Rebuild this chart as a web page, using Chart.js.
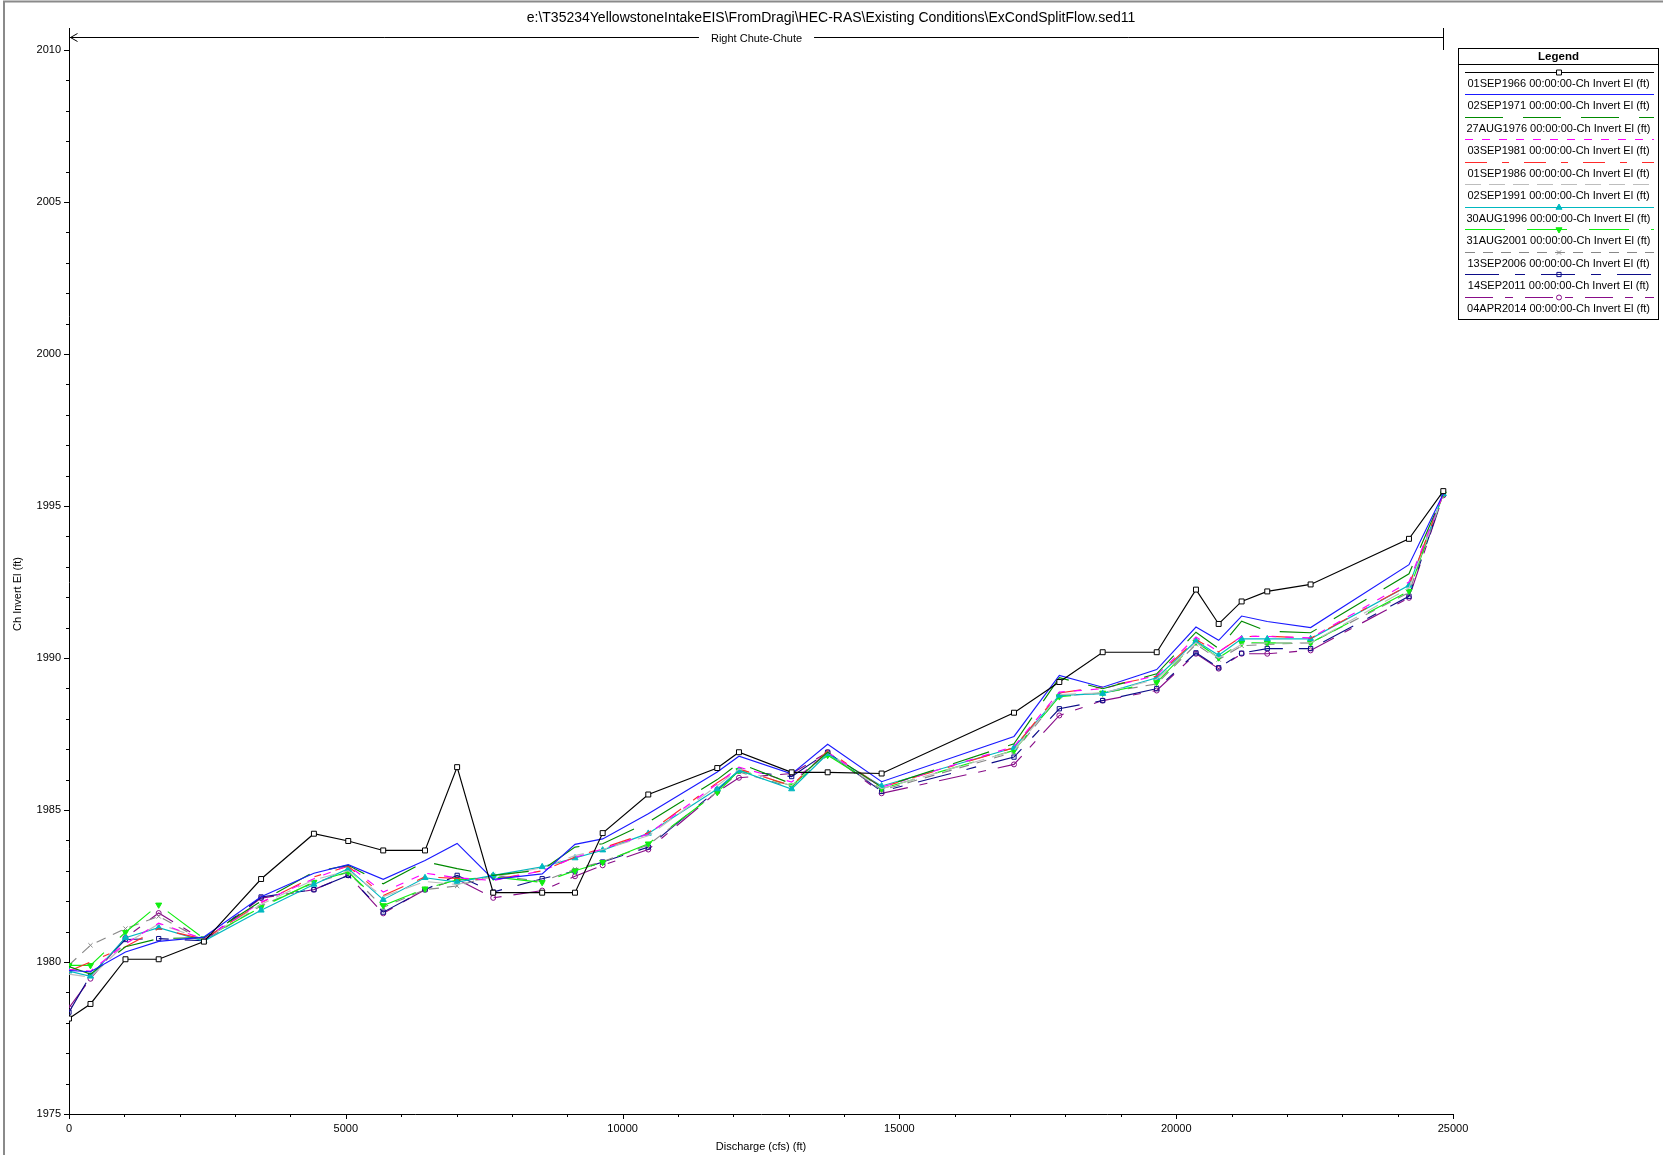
<!DOCTYPE html>
<html><head><meta charset="utf-8">
<script src="https://cdn.jsdelivr.net/npm/chart.js@4.4.1/dist/chart.umd.min.js"></script>
<style>html,body{margin:0;padding:0;background:#fff;overflow:hidden}canvas{display:block}</style>
</head><body><canvas id="c" width="1663" height="1155"></canvas>
<script>
const discharge = [0, 388, 1020, 1620, 2437, 3470, 4424, 5044, 5676, 6431, 7011, 7663, 8547, 9140, 9640, 10464, 11710, 12102, 13054, 13704, 14679, 17070, 17889, 18672, 19648, 20357, 20767, 21182, 21645, 22428, 24205, 24825];

const seriesNames = [
  '01SEP1966 00:00:00-Ch Invert El (ft)',
  '02SEP1971 00:00:00-Ch Invert El (ft)',
  '27AUG1976 00:00:00-Ch Invert El (ft)',
  '03SEP1981 00:00:00-Ch Invert El (ft)',
  '01SEP1986 00:00:00-Ch Invert El (ft)',
  '02SEP1991 00:00:00-Ch Invert El (ft)',
  '30AUG1996 00:00:00-Ch Invert El (ft)',
  '31AUG2001 00:00:00-Ch Invert El (ft)',
  '13SEP2006 00:00:00-Ch Invert El (ft)',
  '14SEP2011 00:00:00-Ch Invert El (ft)',
  '04APR2014 00:00:00-Ch Invert El (ft)'
];

const el1966 = [1978.14, 1978.62, 1980.09, 1980.09, 1980.67, 1982.73, 1984.22, 1983.98, 1983.67, 1983.67, 1986.41, 1982.28, 1982.28, 1982.28, 1984.24, 1985.51, 1986.38, 1986.90, 1986.24, 1986.24, 1986.20, 1988.20, 1989.21, 1990.19, 1990.19, 1992.25, 1991.12, 1991.86, 1992.19, 1992.42, 1993.92, 1995.49];
const el1971 = [1979.72, 1979.68, 1980.33, 1980.68, 1980.82, 1982.15, 1982.92, 1983.20, 1982.72, 1983.34, 1983.90, 1982.72, 1982.90, 1983.87, 1984.05, 1984.88, 1986.25, 1986.77, 1986.19, 1987.16, 1985.93, 1987.42, 1989.43, 1989.04, 1989.62, 1991.02, 1990.58, 1991.38, 1991.20, 1991.00, 1993.07, 1995.40];
const el1976 = [1979.85, 1979.60, 1980.50, 1980.77, 1980.80, 1982.00, 1982.96, 1983.18, 1982.57, 1983.30, 1983.07, 1982.85, 1983.03, 1983.78, 1983.89, 1984.60, 1986.00, 1986.54, 1985.86, 1986.90, 1985.75, 1987.18, 1989.35, 1988.99, 1989.48, 1990.85, 1990.31, 1991.21, 1990.88, 1990.83, 1992.77, 1995.40];
const el1981 = [1979.75, 1979.70, 1980.60, 1981.28, 1980.75, 1981.97, 1982.74, 1983.18, 1982.30, 1982.92, 1982.77, 1982.68, 1983.00, 1983.44, 1983.72, 1984.21, 1985.86, 1986.41, 1985.92, 1986.90, 1985.75, 1987.09, 1988.88, 1988.99, 1989.43, 1990.69, 1990.20, 1990.71, 1990.71, 1990.66, 1992.50, 1995.40];
const el1986 = [1979.70, 1980.00, 1980.50, 1981.10, 1980.75, 1981.95, 1982.80, 1983.15, 1982.19, 1982.80, 1982.75, 1982.70, 1983.00, 1983.45, 1983.75, 1984.25, 1985.90, 1986.35, 1985.80, 1986.95, 1985.75, 1987.05, 1988.85, 1989.05, 1989.40, 1990.60, 1990.20, 1990.70, 1990.72, 1990.65, 1992.40, 1995.40];
const el1991 = [1979.60, 1979.50, 1980.60, 1981.25, 1980.75, 1981.90, 1982.70, 1983.00, 1982.15, 1982.65, 1982.55, 1982.80, 1983.10, 1983.50, 1983.70, 1984.15, 1985.80, 1986.35, 1985.80, 1986.90, 1985.70, 1986.95, 1988.80, 1988.85, 1989.30, 1990.50, 1990.00, 1990.45, 1990.50, 1990.50, 1992.30, 1995.40];
const el1996 = [1979.70, 1979.53, 1980.80, 1981.13, 1980.69, 1981.70, 1982.55, 1983.07, 1982.05, 1982.77, 1982.63, 1982.85, 1983.13, 1983.42, 1983.68, 1984.23, 1985.69, 1986.30, 1985.69, 1986.85, 1985.79, 1987.05, 1988.77, 1988.83, 1989.35, 1990.56, 1990.09, 1990.63, 1990.63, 1990.63, 1992.39, 1995.40];
const el2001 = [1979.89, 1979.89, 1980.98, 1981.88, 1980.77, 1981.80, 1982.63, 1982.96, 1981.86, 1982.41, 1982.70, 1982.80, 1982.62, 1983.00, 1983.28, 1983.89, 1985.58, 1986.30, 1985.80, 1986.80, 1985.70, 1986.96, 1988.73, 1988.85, 1989.20, 1990.53, 1990.01, 1990.50, 1990.50, 1990.50, 1992.20, 1995.40];
const el2006 = [1979.90, 1980.55, 1981.10, 1981.50, 1980.70, 1981.85, 1982.60, 1982.95, 1981.80, 1982.38, 1982.50, 1982.85, 1982.65, 1983.05, 1983.30, 1983.85, 1985.60, 1986.25, 1985.75, 1986.85, 1985.65, 1986.90, 1988.75, 1988.85, 1989.15, 1990.45, 1989.95, 1990.40, 1990.45, 1990.50, 1992.15, 1995.40];
const el2011 = [1978.35, 1979.56, 1980.74, 1980.77, 1980.70, 1982.14, 1982.38, 1982.85, 1981.64, 1982.38, 1982.85, 1982.30, 1982.74, 1982.99, 1983.29, 1983.78, 1985.66, 1986.30, 1986.10, 1986.90, 1985.61, 1986.74, 1988.33, 1988.60, 1988.99, 1990.17, 1989.68, 1990.16, 1990.31, 1990.31, 1992.03, 1995.40];
const el2014 = [1978.50, 1979.45, 1980.80, 1981.61, 1980.72, 1982.10, 1982.38, 1982.85, 1981.60, 1982.38, 1982.72, 1982.11, 1982.35, 1982.82, 1983.18, 1983.70, 1985.60, 1986.06, 1986.20, 1986.90, 1985.55, 1986.50, 1988.11, 1988.60, 1988.93, 1990.14, 1989.65, 1990.14, 1990.14, 1990.25, 1991.98, 1995.35];

const xTicks = [0, 5000, 10000, 15000, 20000, 25000];
const yTicks = [1975, 1980, 1985, 1990, 1995, 2000, 2005, 2010];

const titleText = 'e:\\T35234YellowstoneIntakeEIS\\FromDragi\\HEC-RAS\\Existing Conditions\\ExCondSplitFlow.sed11';
const reachText = 'Right Chute-Chute';
const xTitle = 'Discharge (cfs) (ft)';
const yTitle = 'Ch Invert El (ft)';
const legendTitle = 'Legend';

const FAM = '"Liberation Sans", Arial, sans-serif';
const SZ = 11;

const allValues = [el1966, el1971, el1976, el1981, el1986, el1991, el1996, el2001, el2006, el2011, el2014];
const styles = [
  {c:'#000000', dash:[], ps:'rect', r:3.5, bg:'#ffffff'},
  {c:'#1a1aff', dash:[], ps:false, r:0},
  {c:'#008a00', dash:[38,20], ps:false, r:0},
  {c:'#ff00ff', dash:[8,9], ps:false, r:0},
  {c:'#ff2a2a', dash:[22,15,7,15], ps:false, r:0},
  {c:'#bdbdbd', dash:[16,8], ps:false, r:0},
  {c:'#00b8c0', dash:[], ps:'triangle', r:3.5, bg:'#00b8c0'},
  {c:'#10ee10', dash:[40,22], ps:'triangle', r:3.5, bg:'#10ee10', rot:180},
  {c:'#888888', dash:[10,8], ps:'crossRot', r:3, bg:'#888888'},
  {c:'#0c0c88', dash:[34,16,10,16], ps:'rect', r:3, bg:'rgba(0,0,0,0)'},
  {c:'#880c88', dash:[28,12,8,12], ps:'circle', r:2.5, bg:'rgba(0,0,0,0)'}
];

const datasets = allValues.map((vals, i) => {
  const s = styles[i];
  return {
    label: seriesNames[i],
    data: discharge.map((x, j) => ({x: x, y: vals[j]})),
    borderColor: s.c,
    borderWidth: 1.15,
    borderDash: s.dash,
    tension: 0,
    fill: false,
    pointStyle: s.ps || 'circle',
    pointRadius: s.r,
    pointRotation: s.rot || 0,
    pointBorderColor: s.c,
    pointBackgroundColor: s.bg || s.c,
    pointBorderWidth: 1,
    pointHoverRadius: s.r
  };
});

const deco = {
  id: 'deco',
  afterDraw(chart) {
    const ctx = chart.ctx;
    const xs = chart.scales.x, ys = chart.scales.y;
    const left = chart.chartArea.left, bottom = chart.chartArea.bottom;
    ctx.save();
    ctx.strokeStyle = '#8a8a8a'; ctx.lineWidth = 2;
    ctx.beginPath(); ctx.moveTo(4, 1155); ctx.lineTo(4, 1.5); ctx.lineTo(1663, 1.5); ctx.stroke();

    ctx.strokeStyle = '#000'; ctx.lineWidth = 1;
    ctx.beginPath();
    for (let v = xs.min; v <= xs.max; v += 1000) {
      const px = Math.round(xs.getPixelForValue(v)) + 0.5;
      const len = (v % 5000 === 0) ? 5 : 3;
      ctx.moveTo(px, bottom); ctx.lineTo(px, bottom + len);
    }
    for (let v = ys.min; v <= ys.max; v += 1) {
      const py = Math.round(ys.getPixelForValue(v)) + 0.5;
      const len = (v % 5 === 0) ? 5 : 3;
      ctx.moveTo(left, py); ctx.lineTo(left - len, py);
    }
    ctx.stroke();

    ctx.fillStyle = '#000';
    ctx.textAlign = 'center'; ctx.textBaseline = 'middle';
    ctx.font = '14px ' + FAM;
    ctx.fillText(titleText, 831, 18);

    const x0 = Math.round(xs.getPixelForValue(0)) + 0.5;
    const x1 = Math.round(xs.getPixelForValue(24825)) + 0.5;
    const yl = 37.5;
    ctx.font = SZ + 'px ' + FAM;
    const tw = ctx.measureText(reachText).width;
    const cx = (x0 + x1) / 2;
    ctx.beginPath();
    ctx.moveTo(x0, yl); ctx.lineTo(cx - tw / 2 - 12, yl);
    ctx.moveTo(cx + tw / 2 + 12, yl); ctx.lineTo(x1, yl);
    ctx.moveTo(x0, 28); ctx.lineTo(x0, 50);
    ctx.moveTo(x1, 28); ctx.lineTo(x1, 50);
    ctx.moveTo(x0 + 8, yl - 4); ctx.lineTo(x0 + 1, yl); ctx.lineTo(x0 + 8, yl + 4);
    ctx.stroke();
    ctx.fillText(reachText, cx, yl + 1);

    ctx.font = SZ + 'px ' + FAM;
    ctx.fillText(xTitle, (xs.left + xs.right) / 2, 1147);
    ctx.save();
    ctx.translate(18, 594); ctx.rotate(-Math.PI / 2);
    ctx.fillText(yTitle, 0, 0);
    ctx.restore();

    const bx = 1458.5, by = 48.5, bw = 200, bh = 271;
    ctx.fillStyle = '#fff';
    ctx.fillRect(bx, by, bw, bh);
    ctx.strokeStyle = '#000'; ctx.lineWidth = 1;
    ctx.strokeRect(bx, by, bw, bh);
    ctx.beginPath(); ctx.moveTo(bx, 64.5); ctx.lineTo(bx + bw, 64.5); ctx.stroke();
    ctx.fillStyle = '#000';
    ctx.font = 'bold 11.5px ' + FAM;
    ctx.fillText(legendTitle, bx + bw / 2, 56.5);
    ctx.font = SZ + 'px ' + FAM;
    const pitch = 22.55;
    chart.data.datasets.forEach((ds, i) => {
      const ly = Math.round(71.5 + i * pitch) + 0.5;
      ctx.save();
      ctx.strokeStyle = ds.borderColor; ctx.lineWidth = 1.2;
      ctx.setLineDash(ds.borderDash);
      ctx.beginPath(); ctx.moveTo(1465, ly); ctx.lineTo(1654, ly); ctx.stroke();
      ctx.setLineDash([]);
      if (ds.pointRadius > 0) {
        ctx.fillStyle = ds.pointBackgroundColor;
        ctx.strokeStyle = ds.pointBorderColor;
        ctx.lineWidth = 1;
        Chart.helpers.drawPoint(ctx, {pointStyle: ds.pointStyle, radius: ds.pointRadius, rotation: ds.pointRotation, borderWidth: 1}, 1559, ly);
      }
      ctx.restore();
      ctx.fillStyle = '#000';
      ctx.fillText(ds.label, bx + bw / 2, ly + 11.5);
    });
    ctx.restore();
  }
};

new Chart(document.getElementById('c'), {
  type: 'line',
  data: {datasets: datasets},
  options: {
    responsive: false,
    animation: false,
    devicePixelRatio: 1,
    layout: {padding: {left: 9, right: 210, top: 50, bottom: 11}, autoPadding: false},
    plugins: {legend: {display: false}, tooltip: {enabled: false}, title: {display: false}},
    elements: {line: {tension: 0}},
    scales: {
      x: {
        type: 'linear', min: 0, max: 25000,
        grid: {display: false, drawTicks: false},
        border: {display: true, color: '#000', width: 1},
        ticks: {stepSize: 5000, padding: 8, color: '#000', maxRotation: 0, autoSkip: false, font: {family: FAM, size: SZ}, callback: v => String(v)},
        afterBuildTicks(s) { s.ticks = xTicks.map(v => ({value: v})); },
        afterFit(s) { s.height = 30; }
      },
      y: {
        type: 'linear', min: 1975, max: 2010,
        grid: {display: false, drawTicks: false},
        border: {display: true, color: '#000', width: 1},
        ticks: {stepSize: 5, padding: 8, color: '#000', autoSkip: false, font: {family: FAM, size: SZ}, callback: v => String(v)},
        afterBuildTicks(s) { s.ticks = yTicks.map(v => ({value: v})); },
        afterFit(s) { s.width = 60; }
      }
    }
  },
  plugins: [deco]
});
</script>
</body></html>
